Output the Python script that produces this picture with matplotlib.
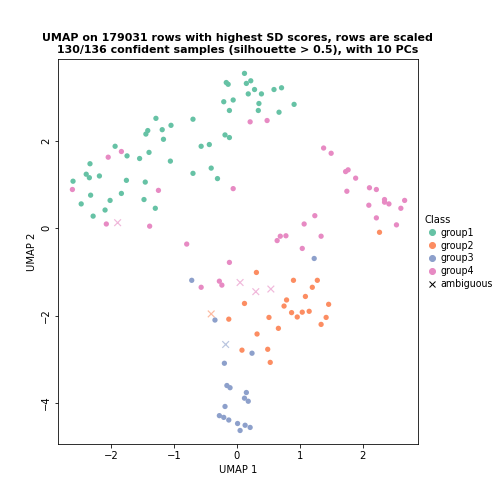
import matplotlib
matplotlib.use("Agg")
import matplotlib.pyplot as plt
from matplotlib.lines import Line2D

# UMAP coordinates
g1_x = [0.12, -0.17, -0.14, 0.22, 0.15, 0.28, 0.18, 0.39, 0.59, 0.71, -0.21, -0.06, 0.35, 0.91,
        -0.12, 0.34, 0.67, -1.29, -0.70, -1.42, -1.45, -1.19, -1.05, -1.17, -0.19, -0.12, -1.94,
        -1.75, -1.55, -1.40, -0.57, -0.44, -1.06, -2.34, -2.40, -2.35, -2.19, -1.76, -1.46, -0.41,
        -0.70, -0.31, -2.61, -2.33, -1.84, -2.02, -2.48, -1.48, -2.10, -1.30, -2.29]
g1_y = [3.55, 3.34, 3.30, 3.38, 3.32, 3.18, 3.08, 3.08, 3.18, 3.22, 2.90, 2.94, 2.86, 2.84,
        2.70, 2.70, 2.66, 2.52, 2.50, 2.24, 2.16, 2.26, 2.36, 2.04, 2.14, 2.08, 1.88,
        1.66, 1.60, 1.74, 1.88, 1.92, 1.54, 1.48, 1.24, 1.16, 1.20, 1.10, 1.06, 1.38,
        1.26, 1.14, 1.08, 0.76, 0.80, 0.64, 0.56, 0.66, 0.42, 0.46, 0.28]
g2_x = [2.27, 0.31, 0.90, 1.28, 1.20, 0.79, 1.09, 1.46, 0.12, 0.75, 0.87, 1.04, 1.15, 0.96,
        1.42, 0.51, -0.13, 1.34, 0.66, 0.32, 0.49, 0.08, 0.53]
g2_y = [-0.09, -1.01, -1.19, -1.19, -1.35, -1.64, -1.56, -1.74, -1.72, -1.78, -1.93, -1.92,
        -1.90, -2.03, -2.04, -2.04, -2.08, -2.20, -2.29, -2.42, -2.77, -2.79, -3.07]
g3_x = [1.23, -0.72, -0.35, 0.24, -0.20, -0.16, -0.11, 0.15, 0.12, 0.18, -0.19, -0.28, -0.21,
        -0.13, 0.01, 0.13, 0.21, 0.05]
g3_y = [-0.69, -1.19, -2.10, -2.86, -3.09, -3.60, -3.65, -3.76, -3.89, -3.96, -4.08, -4.29,
        -4.33, -4.39, -4.47, -4.51, -4.56, -4.63]
g4_x = [0.21, 0.48, -2.05, -1.84, 1.38, 1.50, 1.73, 1.77, 1.89, 1.75, 2.11, 2.22, -2.62, -1.25,
        -0.06, 2.35, 2.35, 2.42, 2.10, 2.67, 2.61, 1.24, 2.22, 2.54, -2.08, -1.39, 1.07, 1.34,
        0.69, 0.78, 0.64, -0.80, 1.04, -0.12, -0.28, -0.24, -0.57]
g4_y = [2.44, 2.47, 1.63, 1.76, 1.84, 1.72, 1.30, 1.34, 1.15, 0.85, 0.93, 0.89, 0.89, 0.87,
        0.91, 0.66, 0.60, 0.56, 0.53, 0.64, 0.46, 0.29, 0.24, 0.08, 0.10, 0.05, 0.10, -0.18,
        -0.18, -0.17, -0.28, -0.36, -0.46, -0.78, -1.21, -1.30, -1.35]

# ambiguous samples (x markers), coloured by nearest class
amb_x = [-1.90, 0.05, 0.30, 0.54, -0.41, -0.18]
amb_y = [0.13, -1.24, -1.45, -1.39, -1.96, -2.66]
amb_c = ["#E78AC3", "#E78AC3", "#E78AC3", "#E78AC3", "#FC8D62", "#8DA0CB"]

colors = ["#66C2A5", "#FC8D62", "#8DA0CB", "#E78AC3"]
labels = ["group1", "group2", "group3", "group4"]

fig = plt.figure(figsize=(7, 7), dpi=72)
ax = fig.add_axes([0.115, 0.119, 0.714, 0.764])

for xs, ys, c in zip([g1_x, g2_x, g3_x, g4_x], [g1_y, g2_y, g3_y, g4_y], colors):
    ax.scatter(xs, ys, s=28, color=c, edgecolors="none")
ax.scatter(amb_x, amb_y, s=45, marker="x", c=amb_c, alpha=0.6, linewidths=1.2)

ax.set_xlim(-2.85, 2.88)
ax.set_ylim(-4.94, 3.88)
ax.set_xticks([-2, -1, 0, 1, 2])
ax.set_yticks([-4, -2, 0, 2])
ax.tick_params(labelsize=10)
for lbl in ax.get_yticklabels():
    lbl.set_rotation(90)
    lbl.set_va("center")
ax.set_xlabel("UMAP 1", fontsize=10)
ax.set_ylabel("UMAP 2", fontsize=10)
ax.set_title("UMAP on 179031 rows with highest SD scores, rows are scaled\n"
             "130/136 confident samples (silhouette > 0.5), with 10 PCs",
             fontsize=11, fontweight="bold")

handles = [Line2D([], [], marker="o", ls="", color=c, markersize=6) for c in colors]
handles.append(Line2D([], [], marker="x", ls="", color="black", markersize=6))
fig.legend(handles, labels + ["ambiguous"], title="Class", loc="center left",
           bbox_to_anchor=(0.83, 0.5), frameon=False, fontsize=9.5,
           title_fontsize=10, handletextpad=0.1, handlelength=1.5,
           borderpad=0.2, labelspacing=0.3, alignment="left")

fig.savefig("out.png", dpi=72)
